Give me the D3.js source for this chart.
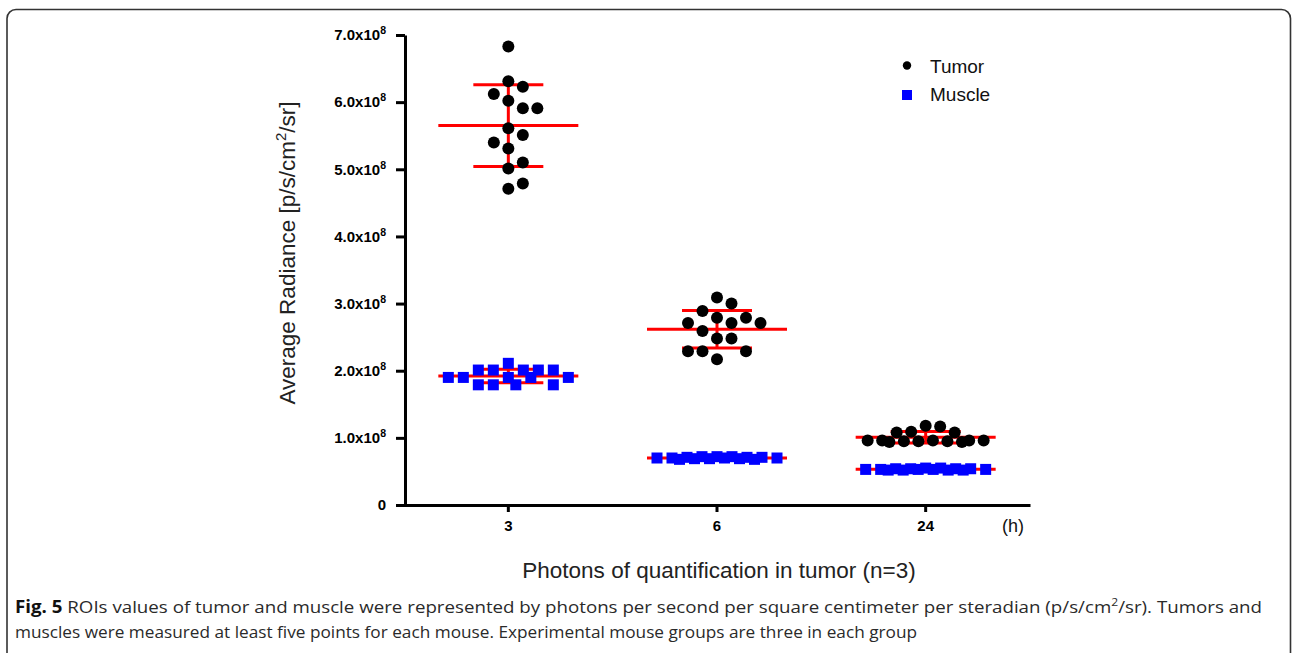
<!DOCTYPE html>
<html><head><meta charset="utf-8">
<script src="https://cdn.jsdelivr.net/npm/d3@7"></script>
<style>body{margin:0;background:#fff} svg{display:block}</style>
</head><body><svg id="c" width="1292" height="653"></svg>
<script>
// ---- data ----
const categories = ["3", "6", "24"];
const seriesNames = ["Tumor", "Muscle"];
const tumor3  = [6.83e8, 6.31e8, 6.23e8, 6.12e8, 6.02e8, 5.91e8, 5.91e8, 5.61e8, 5.51e8, 5.40e8, 5.31e8, 5.10e8, 5.01e8, 4.79e8, 4.71e8];
const tumor6  = [3.09e8, 3.00e8, 2.89e8, 2.79e8, 2.79e8, 2.71e8, 2.71e8, 2.71e8, 2.59e8, 2.48e8, 2.48e8, 2.29e8, 2.29e8, 2.29e8, 2.17e8];
const tumor24 = [1.18e8, 1.17e8, 1.09e8, 1.08e8, 1.08e8, 0.96e8, 0.96e8, 0.96e8, 0.95e8, 0.95e8, 0.94e8, 0.95e8, 0.94e8, 0.96e8, 0.96e8];
const muscle3  = [2.11e8, 2.01e8, 2.01e8, 2.01e8, 2.01e8, 2.01e8, 1.90e8, 1.90e8, 1.90e8, 1.90e8, 1.90e8, 1.79e8, 1.79e8, 1.79e8, 1.79e8];
const muscle6  = [0.70e8, 0.72e8, 0.71e8, 0.69e8, 0.72e8, 0.70e8, 0.68e8, 0.71e8, 0.69e8, 0.72e8, 0.68e8, 0.70e8, 0.71e8, 0.69e8, 0.70e8];
const muscle24 = [0.53e8, 0.54e8, 0.52e8, 0.55e8, 0.53e8, 0.52e8, 0.54e8, 0.53e8, 0.55e8, 0.52e8, 0.53e8, 0.54e8, 0.52e8, 0.53e8, 0.54e8];
const yTicks = [0, 1e8, 2e8, 3e8, 4e8, 5e8, 6e8, 7e8];
const yTickLabels = ["0", "1.0", "2.0", "3.0", "4.0", "5.0", "6.0", "7.0"];
const xUnit = "(h)";
const yTitle = ["Average Radiance [p/s/cm", "2", "/sr]"];
const xTitle = "Photons of quantification in tumor (n=3)";
const caption1 = ["Fig. 5", " ROIs values of tumor and muscle were represented by photons per second per square centimeter per steradian (p/s/cm", "2", "/sr). Tumors and"];
const caption2 = "muscles were measured at least five points for each mouse. Experimental mouse groups are three in each group";

const tumorData = [tumor3, tumor6, tumor24];
const muscleData = [muscle3, muscle6, muscle24];

// ---- drawing ----
const svg = d3.select("#c");
const FONT = "'Liberation Sans', Arial, sans-serif";

// frame
svg.append("rect").attr("x", 7).attr("y", 9.5).attr("width", 1283.5).attr("height", 700)
  .attr("rx", 9).attr("fill", "none").attr("stroke", "#333").attr("stroke-width", 1.6);

const y = d3.scaleLinear().domain([0, 7e8]).range([505, 35]);
const x = d3.scaleBand().domain(categories).range([404, 1030]);
const cx = c => x(c) + x.bandwidth() / 2;

// y axis
const gy = svg.append("g").attr("transform", "translate(405,0)")
  .call(d3.axisLeft(y).tickValues(yTicks).tickSize(9).tickSizeOuter(0).tickPadding(10).tickFormat(""));
gy.select(".domain").attr("stroke-width", 3).attr("stroke", "#000");
gy.selectAll(".tick line").attr("stroke-width", 3).attr("stroke", "#000");
gy.selectAll(".tick text").each(function(d) {
  const t = d3.select(this).attr("font-family", FONT).attr("font-size", 15).attr("font-weight", "bold").attr("fill", "#000");
  const lab = yTickLabels[yTicks.indexOf(d)];
  if (d === 0) { t.text(lab); return; }
  t.append("tspan").text(lab + "x10");
  t.append("tspan").attr("dy", -6).attr("font-size", 10.5).text("8");
});

// x axis
const gx = svg.append("g").attr("transform", "translate(0,505)")
  .call(d3.axisBottom(x).tickSize(7).tickSizeOuter(0).tickPadding(8));
gx.select(".domain").attr("stroke-width", 3).attr("stroke", "#000");
gx.selectAll(".tick line").attr("stroke-width", 3).attr("stroke", "#000");
gx.selectAll(".tick text").attr("font-family", FONT).attr("font-size", 15).attr("font-weight", "bold").attr("fill", "#000");
svg.append("text").attr("x", 1013).attr("y", 532).attr("text-anchor", "middle")
  .attr("font-family", FONT).attr("font-size", 18).attr("fill", "#111").text(xUnit);

// axis titles
const yt = svg.append("text").attr("transform", "translate(295,253) rotate(-90)").attr("text-anchor", "middle")
  .attr("font-family", FONT).attr("font-size", 22.5).attr("fill", "#222");
yt.append("tspan").text(yTitle[0]);
yt.append("tspan").attr("dy", -9).attr("font-size", 15).text(yTitle[1]);
yt.append("tspan").attr("dy", 9).text(yTitle[2]);

svg.append("text").attr("x", 719).attr("y", 578).attr("text-anchor", "middle")
  .attr("font-family", FONT).attr("font-size", 22.5).attr("fill", "#222").text(xTitle);

// beeswarm: integer columns first, then least-overlap half columns, within +-K columns
function swarm(values, step, T, K, shape, size) {
  const idx = values.map((v, i) => i).sort((a, b) => values[b] - values[a]);
  const placed = [], off = new Array(values.length);
  const cand = [0];
  for (let k = 1; k <= K; k++) cand.push(k, -k);
  const half = [];
  for (let k = 0.5; k <= K; k += 0.5) half.push(k, -k);
  function cost(px, py) {
    let s = 0;
    for (const p of placed) {
      const dx = Math.abs(p.x - px), dy = Math.abs(p.y - py);
      if (shape === "circle") { const d = Math.hypot(dx, dy); if (d < size) s += size - d; }
      else if (dx < size && dy < size) s += (size - dx) * (size - dy);
    }
    return s;
  }
  for (const i of idx) {
    const yy = y(values[i]);
    let chosen = null;
    for (const c of cand) {
      const px = c * step;
      if (!placed.some(p => Math.abs(p.x - px) < step * 0.99 && Math.abs(p.y - yy) < T)) { chosen = px; break; }
    }
    if (chosen === null) {
      let best = Infinity;
      for (const c of half) { const v = cost(c * step, yy); if (v < best - 1e-9) { best = v; chosen = c * step; } }
    }
    off[i] = chosen;
    placed.push({x: chosen, y: yy});
  }
  return off;
}

const lines = svg.append("g");
const marks = svg.append("g");
function drawGroup(values, cat, kind) {
  const c = cx(cat);
  const m = d3.mean(values), sd = d3.deviation(values);
  const red = "#ff0000", w = 3;
  lines.append("line").attr("x1", c - 70).attr("x2", c + 70).attr("y1", y(m)).attr("y2", y(m)).attr("stroke", red).attr("stroke-width", w);
  [m - sd, m + sd].forEach(v => lines.append("line").attr("x1", c - 35).attr("x2", c + 35).attr("y1", y(v)).attr("y2", y(v)).attr("stroke", red).attr("stroke-width", w));
  lines.append("line").attr("x1", c).attr("x2", c).attr("y1", y(m - sd)).attr("y2", y(m + sd)).attr("stroke", red).attr("stroke-width", w);
  if (kind === "Tumor") {
    const off = swarm(values, 14.5, 15, 4, "circle", 12.5);
    marks.selectAll(null).data(values).join("circle")
      .attr("cx", (d, i) => c + off[i]).attr("cy", d => y(d)).attr("r", 6).attr("fill", "#000");
  } else {
    const off = swarm(values, 15, 12, 4, "rect", 11);
    marks.selectAll(null).data(values).join("rect")
      .attr("x", (d, i) => c + off[i] - 5.5).attr("y", d => y(d) - 5.5).attr("width", 11).attr("height", 11).attr("fill", "#0000ff");
  }
}
categories.forEach((cat, i) => { drawGroup(tumorData[i], cat, "Tumor"); });
categories.forEach((cat, i) => { drawGroup(muscleData[i], cat, "Muscle"); });

// legend
svg.append("circle").attr("cx", 907).attr("cy", 65.5).attr("r", 4.2).attr("fill", "#000");
svg.append("rect").attr("x", 902).attr("y", 90).attr("width", 10).attr("height", 10).attr("fill", "#0000ff");
svg.append("text").attr("x", 930).attr("y", 72.5).attr("font-family", FONT).attr("font-size", 19).attr("fill", "#111").text(seriesNames[0]);
svg.append("text").attr("x", 930).attr("y", 100.5).attr("font-family", FONT).attr("font-size", 19).attr("fill", "#111").text(seriesNames[1]);

// caption
const CF = "'Open Sans', 'Noto Sans', sans-serif";
const c1 = svg.append("text").attr("x", 15).attr("y", 613).attr("font-family", CF).attr("font-size", 17).attr("fill", "#2a2a2a");
c1.append("tspan").attr("font-weight", "bold").attr("fill", "#111").text(caption1[0]);
c1.append("tspan").text(caption1[1]);
c1.append("tspan").attr("dy", -7).attr("font-size", 11).text(caption1[2]);
c1.append("tspan").attr("dy", 7).text(caption1[3]);
const c2 = svg.append("text").attr("x", 15).attr("y", 638).attr("font-family", CF).attr("font-size", 17).attr("fill", "#2a2a2a").text(caption2);
c1.attr("textLength", 1247).attr("lengthAdjust", "spacingAndGlyphs");
c2.attr("textLength", 902).attr("lengthAdjust", "spacingAndGlyphs");
</script></body></html>
